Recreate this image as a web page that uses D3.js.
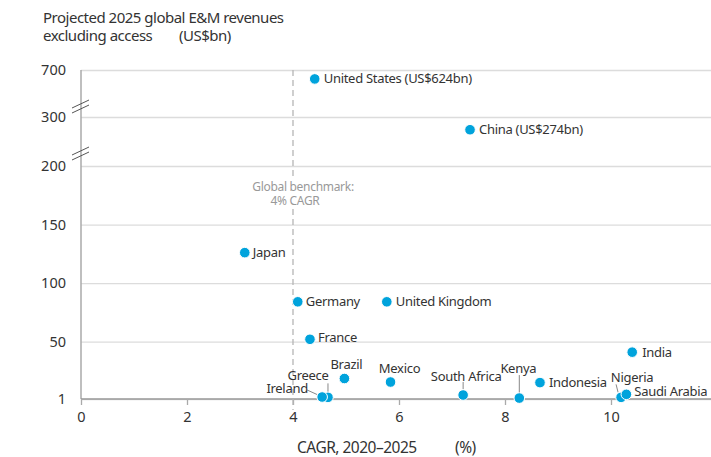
<!DOCTYPE html>
<html>
<head>
<meta charset="utf-8">
<script src="https://cdn.jsdelivr.net/npm/d3@7"></script>
<style>
  body { margin: 0; background: #fff; }
  text { font-family: "Noto Sans", sans-serif; fill: #333; }
</style>
</head>
<body>
<div id="chart"></div>
<script>
// chart size
var width = 711;
var height = 457;

// data
var countries = ["United States (US$624bn)", "China (US$274bn)", "Japan", "Germany", "United Kingdom",
    "France", "Brazil", "Mexico", "Greece", "Ireland", "South Africa", "Kenya", "Indonesia",
    "India", "Nigeria", "Saudi Arabia"];
var cagr = [4.41, 7.34, 3.09, 4.09, 5.77, 4.32, 4.97, 5.84, 4.66, 4.55, 7.21, 8.27, 8.66, 10.4, 10.19, 10.29];
var revenue = [624, 274, 126, 84, 84, 52, 18.5, 15.5, 2.4, 2.7, 4.4, 1.8, 15, 41, 2.4, 5];

var xTicks = [0, 2, 4, 6, 8, 10];
var yTicks = [1, 50, 100, 150, 200, 300, 700];
var benchmark = 4;

// label placement: [dx, dy, anchor, leader line or null]
var labelLayout = {
    "United States (US$624bn)": [9, 0, "start", null],
    "China (US$274bn)": [9, 0, "start", null],
    "Japan": [8, 0, "start", null],
    "Germany": [8, 0, "start", null],
    "United Kingdom": [9, 0, "start", null],
    "France": [8, -2, "start", null],
    "Brazil": [2, -14, "middle", null],
    "Mexico": [9, -14, "middle", null],
    "Greece": [-20, -22, "middle", [0, -5, 0, -14]],
    "Ireland": [-35, -9, "middle", [-4, -2, -15, -7]],
    "South Africa": [3, -19, "middle", [0, -6, 0, -13]],
    "Kenya": [-1, -30, "middle", [0, -5, 0, -23]],
    "Indonesia": [9, 0, "start", null],
    "India": [10, 0, "start", null],
    "Nigeria": [11, -20, "middle", [-3, -5, -5, -13]],
    "Saudi Arabia": [8, -3, "start", null]
};

var svg = d3.select("#chart").append("svg")
    .attr("width", width).attr("height", height);

var x = d3.scaleLinear().domain([0, 12]).range([81, 81 + 12 * 53]);
// broken y axis: piecewise linear segments
var y = d3.scaleLinear().domain([1, 200, 300, 700]).range([399, 166, 117, 70]);

// title
svg.append("text").attr("x", 43).attr("y", 23)
    .style("font-size", "15px").style("letter-spacing", "-0.5px")
    .text("Projected 2025 global E&M revenues");
svg.append("text").attr("x", 43).attr("y", 41)
    .style("font-size", "15px").style("letter-spacing", "-0.5px")
    .text("excluding access");
svg.append("text").attr("x", 179).attr("y", 41)
    .style("font-size", "15px").style("letter-spacing", "-0.5px")
    .text("(US$bn)");

// y axis with gridlines
var yAxis = svg.append("g")
    .attr("transform", "translate(81,0)")
    .call(d3.axisLeft(y).tickValues(yTicks).tickSize(-(width - 81)).tickFormat(d3.format("d")));
yAxis.select(".domain").remove();
yAxis.selectAll(".tick line").attr("stroke", "#dcdcdc").attr("stroke-width", 1.3);
yAxis.selectAll(".tick text").attr("x", -15)
    .style("font-size", "14.5px").style("font-family", "Noto Sans, sans-serif").attr("fill", "#333");

// left axis line
svg.append("line").attr("x1", 81).attr("x2", 81).attr("y1", 70).attr("y2", 399)
    .attr("stroke", "#aaa").attr("stroke-width", 1.5);

// axis break marks
[104, 151].forEach(function(by) {
    [0, 5].forEach(function(off) {
        svg.append("line")
            .attr("x1", 72).attr("y1", by + 4 + off)
            .attr("x2", 89).attr("y2", by - 4 + off)
            .attr("stroke", "#555").attr("stroke-width", 1);
    });
});

// x axis
var xAxis = svg.append("g")
    .attr("transform", "translate(0," + y(1) + ")")
    .call(d3.axisBottom(x).tickValues(xTicks).tickSize(6).tickSizeOuter(0));
xAxis.select(".domain").attr("d", "M81,0H" + width).attr("stroke", "#999").attr("stroke-width", 1.5);
xAxis.selectAll(".tick line").attr("stroke", "#aaa").attr("stroke-width", 1.3);
xAxis.selectAll(".tick text").attr("y", 13)
    .style("font-size", "14.5px").style("font-family", "Noto Sans, sans-serif").attr("fill", "#333");

svg.append("text").attr("x", 297).attr("y", 453)
    .style("font-size", "15.5px").style("letter-spacing", "-0.5px")
    .text("CAGR, 2020–2025");
svg.append("text").attr("x", 455).attr("y", 453)
    .style("font-size", "15.5px").style("letter-spacing", "-0.5px")
    .text("(%)");

// benchmark line, broken around its label
[[70, 177], [209, 410]].forEach(function(seg) {
    svg.append("line")
        .attr("x1", x(benchmark)).attr("x2", x(benchmark))
        .attr("y1", seg[0]).attr("y2", seg[1])
        .attr("stroke", "#b5b5b5").attr("stroke-width", 1.3)
        .attr("stroke-dasharray", "6,4");
});
svg.append("text").attr("x", x(benchmark) + 10).attr("y", 191)
    .attr("text-anchor", "middle").style("font-size", "12px").style("fill", "#999")
    .style("letter-spacing", "-0.3px")
    .text("Global benchmark:");
svg.append("text").attr("x", x(benchmark) + 2).attr("y", 205)
    .attr("text-anchor", "middle").style("font-size", "12px").style("fill", "#999")
    .style("letter-spacing", "-0.3px")
    .text("4% CAGR");

var points = countries.map(function(c, i) {
    return { name: c, cx: x(cagr[i]), cy: y(revenue[i]) };
});

// leader lines
svg.selectAll(".leader")
    .data(points.filter(function(d) { return labelLayout[d.name][3]; }))
    .enter().append("line")
    .attr("x1", function(d) { return d.cx + labelLayout[d.name][3][0]; })
    .attr("y1", function(d) { return d.cy + labelLayout[d.name][3][1]; })
    .attr("x2", function(d) { return d.cx + labelLayout[d.name][3][2]; })
    .attr("y2", function(d) { return d.cy + labelLayout[d.name][3][3]; })
    .attr("stroke", "#888").attr("stroke-width", 1);

// dots
svg.selectAll(".dot")
    .data(points).enter().append("circle")
    .attr("cx", function(d) { return d.cx; })
    .attr("cy", function(d) { return d.cy; })
    .attr("r", 5.3)
    .attr("fill", "#00a3dc")
    .attr("stroke", "#fff").attr("stroke-width", 1);

// labels
svg.selectAll(".lbl")
    .data(points).enter().append("text")
    .attr("x", function(d) { return d.cx + labelLayout[d.name][0]; })
    .attr("y", function(d) { return d.cy + labelLayout[d.name][1]; })
    .attr("dy", "0.35em")
    .attr("text-anchor", function(d) { return labelLayout[d.name][2]; })
    .style("font-size", "13px").style("letter-spacing", "-0.3px")
    .text(function(d) { return d.name; });
</script>
</body>
</html>
